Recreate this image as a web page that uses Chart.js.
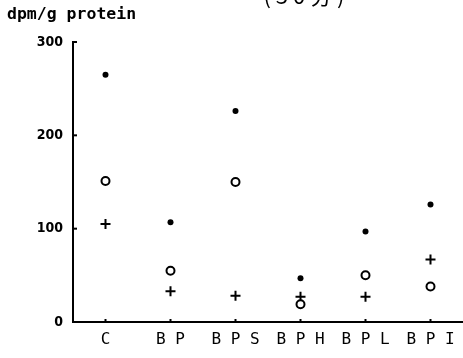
<!DOCTYPE html>
<html>
<head>
<meta charset="utf-8">
<script src="https://cdn.jsdelivr.net/npm/chart.js@4"></script>
<style>
    html, body { margin: 0; padding: 0; background: #fff; }
    #wrap { width: 463px; height: 358px; position: relative; }
</style>
</head>
<body>
<div id="wrap"><canvas id="chart"></canvas></div>
<script>
const categories = ['C', 'B P', 'B P S', 'B P H', 'B P L', 'B P I'];
const dotValues = [265, 107, 226, 47, 97, 126];
const circleValues = [151, 55, 150, 19, 50, 38];
const plusValues = [105, 33, 28, 27, 27, 67];
const yTicks = [0, 100, 200, 300];
const yLabel = 'dpm/g protein';
const titleText = '( 3 0 分 )';

// inward tick marks and the texts at the top
const decorations = {
    id: 'decorations',
    afterDraw(chart) {
        const ctx = chart.ctx;
        const x = chart.scales.x;
        const y = chart.scales.y;
        ctx.save();
        ctx.strokeStyle = '#000';
        ctx.lineWidth = 2;
        yTicks.forEach(v => {
            if (v === 0) return;
            const py = y.getPixelForValue(v);
            ctx.beginPath();
            ctx.moveTo(x.left, py);
            ctx.lineTo(x.left + 4, py);
            ctx.stroke();
        });
        categories.forEach((c, i) => {
            const px = x.getPixelForValue(i);
            ctx.beginPath();
            ctx.moveTo(px, y.bottom);
            ctx.lineTo(px, y.bottom - 3);
            ctx.stroke();
        });
        ctx.fillStyle = '#000';
        ctx.font = 'bold 16.5px "DejaVu Sans Mono"';
        ctx.textAlign = 'left';
        ctx.textBaseline = 'alphabetic';
        ctx.fillText(yLabel, 7, 19);
        ctx.font = '22px "Noto Sans CJK JP"';
        ctx.textAlign = 'center';
        ctx.textBaseline = 'middle';
        ctx.fillText(titleText, 304, -4);
        ctx.restore();
    }
};

document.addEventListener('DOMContentLoaded', () => {
    const chartEl = document.getElementById('chart');

    const common = {
        showLine: false,
        borderColor: '#000',
        backgroundColor: '#000'
    };

    new Chart(chartEl, {
        type: 'line',
        data: {
            labels: categories,
            datasets: [{
                    ...common,
                    label: 'dot',
                    data: dotValues,
                    pointStyle: 'circle',
                    pointRadius: 3,
                    pointBorderWidth: 0
                },
                {
                    ...common,
                    label: 'circle',
                    data: circleValues,
                    pointStyle: 'circle',
                    pointRadius: 4,
                    pointBorderWidth: 2,
                    pointBackgroundColor: '#fff'
                },
                {
                    ...common,
                    label: 'plus',
                    data: plusValues,
                    pointStyle: 'cross',
                    pointRadius: 5,
                    pointBorderWidth: 2
                }
            ]
        },
        options: {
            responsive: true,
            maintainAspectRatio: false,
            animation: false,
            layout: {
                autoPadding: false,
                padding: { top: 42, right: 0, left: 0, bottom: 0 }
            },
            plugins: {
                legend: { display: false },
                tooltip: { enabled: false }
            },
            scales: {
                x: {
                    offset: true,
                    grid: { display: false, drawTicks: false },
                    border: { color: '#000', width: 2 },
                    ticks: {
                        color: '#000',
                        padding: 8,
                        maxRotation: 0,
                        autoSkip: false,
                        font: { family: 'DejaVu Sans Mono', size: 16 }
                    },
                    afterFit: (scale) => {
                        scale.height = 36;
                        scale.paddingLeft = 0;
                        scale.paddingRight = 0;
                    }
                },
                y: {
                    min: 0,
                    max: 300,
                    afterBuildTicks: (scale) => {
                        scale.ticks = yTicks.map(v => ({ value: v }));
                    },
                    grid: { display: false, drawTicks: false },
                    border: { color: '#000', width: 2 },
                    ticks: {
                        color: '#000',
                        padding: 10,
                        font: { family: 'DejaVu Sans Condensed', size: 14, weight: 'bold' }
                    },
                    afterFit: (scale) => {
                        scale.width = 73;
                        scale.paddingTop = 0;
                        scale.paddingBottom = 0;
                    }
                }
            }
        },
        plugins: [decorations]
    });
});
</script>
</body>
</html>
